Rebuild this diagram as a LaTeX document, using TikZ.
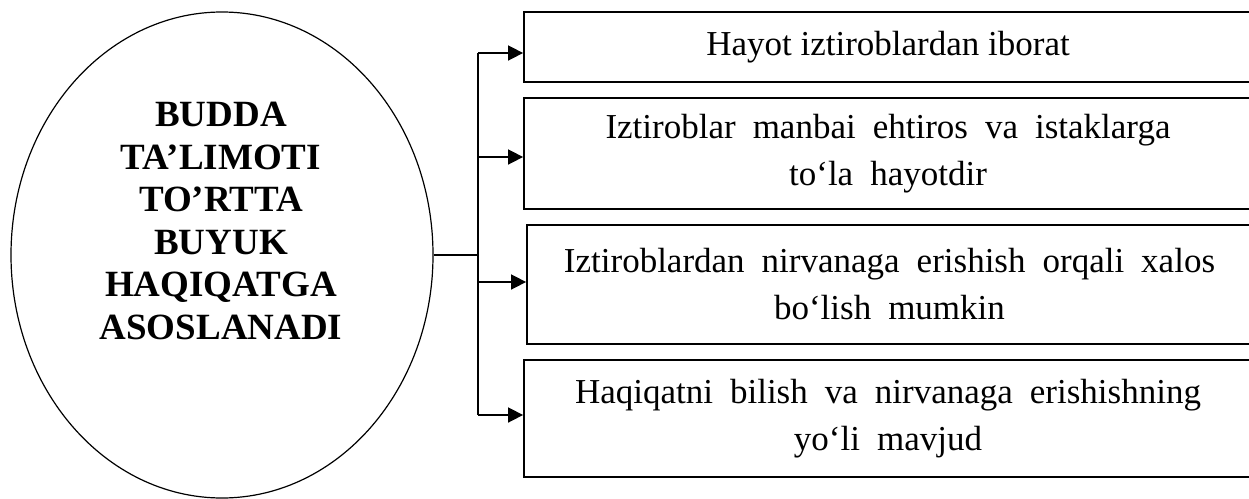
\documentclass[tikz,border=0pt]{standalone}
\usepackage{fontspec}
\setmainfont{Liberation Serif}
\usetikzlibrary{arrows.meta, shapes.geometric}

\begin{document}
\begin{tikzpicture}[
    x=1pt, y=-1pt,
    % Styles
    truth/.style={rectangle, draw, line width=1.8pt, inner sep=0pt, minimum width=728pt, align=center, font=\fontsize{35}{47}\selectfont},
    widetruth/.style={truth, execute at begin node={\spaceskip=17pt\relax}},
    core/.style={ellipse, draw, line width=1.2pt, minimum width=422pt, minimum height=486pt, inner sep=0pt},
    coretext/.style={align=center, font=\fontsize{37}{42.6}\selectfont\bfseries},
    link/.style={line width=1.6pt},
    arrow/.style={-{Triangle[length=15pt, width=15pt]}, line width=1.6pt},
]
\useasboundingbox (0,0) rectangle (1249,498);

% === CENTRAL ELLIPSE ===
\node[core] (budda) at (222,255) {};
\node[coretext] (buddatext) at (221,221) {BUDDA\\TA’LIMOTI\\TO’RTTA\\BUYUK\\HAQIQATGA\\ASOSLANADI};

% === FOUR TRUTHS ===
\node[truth, minimum height=70pt] (truth1) at (888,47) {Hayot iztiroblardan iborat};
\node[widetruth, minimum height=111pt] (truth2) at (888,153.5) {Iztiroblar manbai ehtiros va istaklarga\\to‘la hayotdir};
\node[widetruth, minimum height=119pt, minimum width=725pt] (truth3) at (889.5,284.5) {Iztiroblardan nirvanaga erishish orqali xalos\\bo‘lish mumkin};
\node[widetruth, minimum height=117pt] (truth4) at (888,418.5) {Haqiqatni bilish va nirvanaga erishishning\\yo‘li mavjud};

% Connectors
\coordinate (fork) at (478,255);
\draw[link] (budda.east) -- (fork);
\draw[link] ([yshift=-6pt]fork |- truth1.west) -- ([yshift=3.5pt]fork |- truth4.west);
\foreach \i/\dy in {1/-6,2/-3.5,3/2.5,4/3.5}
  \draw[arrow] ([yshift=\dy pt]fork |- truth\i.west) -- ([yshift=\dy pt]truth\i.west);

\end{tikzpicture}
\end{document}
